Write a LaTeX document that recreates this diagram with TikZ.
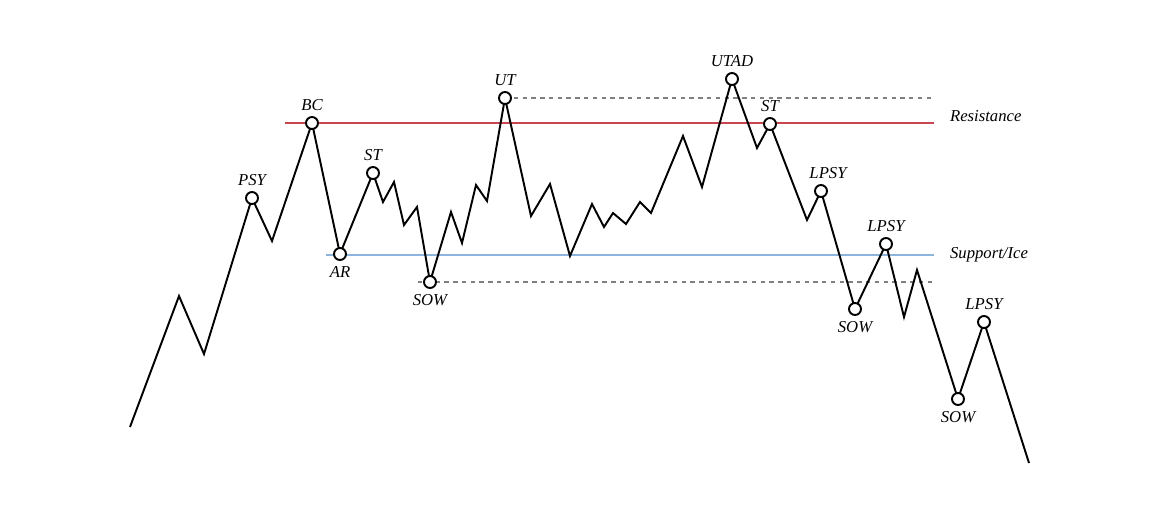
\documentclass[tikz,border=0pt]{standalone}
\usepackage{fontspec}
\setmainfont{Liberation Serif}
\usetikzlibrary{positioning}
\definecolor{resred}{RGB}{200,70,80}
\definecolor{supblue}{RGB}{140,180,220}
\tikzset{
  price/.style={line width=1.1pt, line join=miter},
  pivot/.style={circle, draw, fill=white, line width=1.1pt, inner sep=0pt, minimum size=0.24cm},
  tag/.style={font=\itshape\fontsize{9.5}{11}\selectfont, inner sep=1pt},
  guide/.style={gray, line width=0.8pt, dash pattern=on 2.5pt off 2.5pt},
}

\begin{document}
\begin{tikzpicture}[x=0.02cm, y=-0.02cm]
  \useasboundingbox (0,0) rectangle (1171,525);

  % levels
  \draw[resred, line width=0.8pt] (285,123) -- (934,123);
  \draw[supblue, line width=0.8pt] (326,255) -- (934,255);
  \draw[guide] (505,98) -- (934,98);
  \draw[guide] (418,282) -- (934,282);
  \node[tag, anchor=west] (resistance) at (948,116) {Resistance};
  \node[tag, anchor=west] (support) at (948,255) {Support/Ice};

  % price swings
  \draw[price] (130,427) -- (179,296) -- (204,354)
    -- (252,198) node[pivot] (psy) {} -- (272,241)
    -- (312,123) node[pivot] (bc) {}
    -- (340,254) node[pivot] (ar) {}
    -- (373,173) node[pivot] (st) {}
    -- (383,202) -- (394,182) -- (404,225) -- (417,207)
    -- (430,282) node[pivot] (sow) {}
    -- (451,212) -- (462,243) -- (476,185) -- (487,201)
    -- (505,98) node[pivot] (ut) {}
    -- (531,216) -- (550,184) -- (570,256) -- (592,204) -- (604,227)
    -- (613,213) -- (626,224) -- (640,202) -- (651,213) -- (683,136)
    -- (702,187)
    -- (732,79) node[pivot] (utad) {} -- (757,148)
    -- (770,124) node[pivot] (st2) {} -- (807,220)
    -- (821,191) node[pivot] (lpsy) {}
    -- (855,309) node[pivot] (sow2) {}
    -- (886,244) node[pivot] (lpsy2) {} -- (904,317) -- (917,270)
    -- (958,399) node[pivot] (sow3) {}
    -- (984,322) node[pivot] (lpsy3) {} -- (1029,463);

  % labels
  \node[tag, above=2pt of psy] {PSY};
  \node[tag, above=2pt of bc] {BC};
  \node[tag, below=2pt of ar] {AR};
  \node[tag, above=2pt of st] {ST};
  \node[tag, below=2pt of sow] {SOW};
  \node[tag, above=2pt of ut] {UT};
  \node[tag, above=2pt of utad] {UTAD};
  \node[tag, above=2pt of st2] {ST};
  \node[tag, above=2pt of lpsy, xshift=4pt] {LPSY};
  \node[tag, above=2pt of lpsy2] {LPSY};
  \node[tag, below=2pt of sow2] {SOW};
  \node[tag, below=2pt of sow3] {SOW};
  \node[tag, above=2pt of lpsy3] {LPSY};
\end{tikzpicture}
\end{document}
